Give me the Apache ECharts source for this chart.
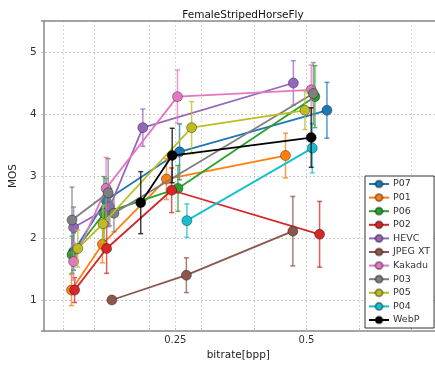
<!DOCTYPE html>
<html>
<head>
<meta charset="utf-8">
<script src="https://cdn.jsdelivr.net/npm/echarts@6/dist/echarts.min.js"></script>
<style>html,body{margin:0;padding:0;background:#fff}#c{width:435px;height:368px}</style>
</head>
<body>
<div id="c"></div>
<script>
const seriesNames = ['P07','P01','P06','P02','HEVC','JPEG XT','Kakadu','P03','P05','P04','WebP'];
const seriesColors = ['#1f77b4','#ff7f0e','#2ca02c','#d62728','#9467bd','#8c564b','#e377c2','#7f7f7f','#bcbd22','#17becf','#000000'];

const p07Rate = [0.056, 0.118, 0.258, 0.539];
const p07Mos  = [1.78, 2.61, 3.39, 4.06];
const p07Err  = [0.30, 0.35, 0.45, 0.45];
const p01Rate = [0.052, 0.111, 0.233, 0.460];
const p01Mos  = [1.16, 1.90, 2.95, 3.33];
const p01Err  = [0.25, 0.30, 0.33, 0.36];
const p06Rate = [0.053, 0.114, 0.255, 0.516];
const p06Mos  = [1.73, 2.40, 2.80, 4.28];
const p06Err  = [0.30, 0.59, 0.37, 0.50];
const p02Rate = [0.058, 0.119, 0.243, 0.525];
const p02Mos  = [1.16, 1.83, 2.77, 2.06];
const p02Err  = [0.20, 0.40, 0.36, 0.53];
const hevcRate = [0.056, 0.125, 0.188, 0.475];
const hevcMos  = [2.17, 2.50, 3.78, 4.50];
const hevcErr  = [0.33, 0.30, 0.30, 0.36];
const jpegxtRate = [0.129, 0.271, 0.474];
const jpegxtMos  = [1.00, 1.40, 2.11];
const jpegxtErr  = [0.03, 0.28, 0.56];
const kakaduRate = [0.056, 0.118, 0.254, 0.509];
const kakaduMos  = [1.62, 2.80, 4.28, 4.39];
const kakaduErr  = [0.30, 0.50, 0.43, 0.40];
const p03Rate = [0.053, 0.122, 0.133, 0.513];
const p03Mos  = [2.29, 2.73, 2.40, 4.33];
const p03Err  = [0.53, 0.55, 0.30, 0.50];
const p05Rate = [0.064, 0.112, 0.281, 0.497];
const p05Mos  = [1.83, 2.23, 3.78, 4.06];
const p05Err  = [0.30, 0.30, 0.42, 0.31];
const p04Rate = [0.272, 0.511];
const p04Mos  = [2.28, 3.45];
const p04Err  = [0.27, 0.40];
const webpRate = [0.184, 0.244, 0.509];
const webpMos  = [2.57, 3.33, 3.62];
const webpErr  = [0.50, 0.44, 0.48];

const xLabelValues = [0.25, 0.5];
const xGridValues = [0.036, 0.096, 0.2, 0.25, 0.3, 0.4, 0.5, 0.6, 0.7];
const yLabelValues = [1, 2, 3, 4, 5];

const allRates = [p07Rate,p01Rate,p06Rate,p02Rate,hevcRate,jpegxtRate,kakaduRate,p03Rate,p05Rate,p04Rate,webpRate];
const allMos = [p07Mos,p01Mos,p06Mos,p02Mos,hevcMos,jpegxtMos,kakaduMos,p03Mos,p05Mos,p04Mos,webpMos];
const allErr = [p07Err,p01Err,p06Err,p02Err,hevcErr,jpegxtErr,kakaduErr,p03Err,p05Err,p04Err,webpErr];

const series = [];
seriesNames.forEach((name, i) => {
  const color = seriesColors[i];
  const errData = allRates[i].map((x, k) => [x, allMos[i][k] - allErr[i][k], allMos[i][k] + allErr[i][k]]);
  series.push({
    name: name + '_err',
    type: 'custom',
    z: 2 + i * 2,
    silent: true,
    data: errData,
    encode: { x: 0, y: [1, 2] },
    renderItem: function (params, api) {
      const x = api.value(0);
      const lo = api.coord([x, api.value(1)]);
      const hi = api.coord([x, api.value(2)]);
      const cw = 2.5;
      const st = { stroke: color, lineWidth: 1.5, opacity: 0.75 };
      return {
        type: 'group',
        children: [
          { type: 'line', shape: { x1: lo[0], y1: lo[1], x2: hi[0], y2: hi[1] }, style: st },
          { type: 'line', shape: { x1: lo[0] - cw, y1: lo[1], x2: lo[0] + cw, y2: lo[1] }, style: st },
          { type: 'line', shape: { x1: hi[0] - cw, y1: hi[1], x2: hi[0] + cw, y2: hi[1] }, style: st }
        ]
      };
    }
  });
  series.push({
    name: name,
    type: 'line',
    z: 3 + i * 2,
    data: allRates[i].map((x, k) => [x, allMos[i][k]]),
    symbol: 'circle',
    symbolSize: 10,
    lineStyle: { color: color, width: 1.8 },
    itemStyle: { color: color, borderColor: 'rgba(0,0,0,0.35)', borderWidth: 1 },
    emphasis: { disabled: true },
    animation: false
  });
});

const chart = echarts.init(document.getElementById('c'), null, { renderer: 'canvas' });
chart.setOption({
  animation: false,
  backgroundColor: '#ffffff',
  title: {
    text: 'FemaleStripedHorseFly',
    left: 238, top: 5, textAlign: 'center',
    textStyle: { fontFamily: 'DejaVu Sans', fontSize: 10.5, fontWeight: 'normal', color: '#111' }
  },
  grid: { left: 37, top: 21, bottom: 37, right: -5, show: false, containLabel: false },
  xAxis: [{
    type: 'value', min: -0.005, max: 0.745,
    name: 'bitrate[bpp]', nameLocation: 'middle', nameGap: 19,
    nameTextStyle: { fontFamily: 'DejaVu Sans', fontSize: 10.5, color: '#222' },
    axisLine: { show: true, lineStyle: { color: '#888', width: 1.5 } },
    axisTick: { show: true, inside: true, length: 3, customValues: xGridValues, lineStyle: { color: '#bbb' } },
    axisLabel: { customValues: xLabelValues, formatter: v => String(v), fontFamily: 'DejaVu Sans', fontSize: 10, color: '#333', margin: 4 },
    splitLine: { show: true, lineStyle: { color: '#ccc', type: [1.5, 2.5], width: 1 } }
  }, {
    type: 'value', position: 'top', min: -0.005, max: 0.745,
    axisLine: { show: true, lineStyle: { color: '#888', width: 1.5 } },
    axisTick: { show: false }, axisLabel: { show: false }, splitLine: { show: false }
  }],
  yAxis: {
    type: 'value', min: 0.5, max: 5.5,
    name: 'MOS', nameLocation: 'middle', nameGap: 18,
    nameTextStyle: { fontFamily: 'DejaVu Sans', fontSize: 10.5, color: '#222' },
    axisLine: { show: true, lineStyle: { color: '#888', width: 1.5 } },
    axisTick: { show: false, customValues: yLabelValues },
    axisLabel: { customValues: yLabelValues, fontFamily: 'DejaVu Sans', fontSize: 10.5, color: '#333', margin: 5 },
    splitLine: { show: true, lineStyle: { color: '#bbb', type: [1.5, 2.5], width: 1 } }
  },
  legend: {
    data: seriesNames,
    orient: 'vertical',
    left: 365, top: 176,
    itemWidth: 20, itemHeight: 9, itemGap: 3.6,
    padding: [3, 4, 3, 3],
    borderColor: '#333', borderWidth: 1,
    backgroundColor: '#fff',
    textStyle: { fontFamily: 'DejaVu Sans', fontSize: 9.5, color: '#333', padding: [0, 0, 0, -1] },
    selectedMode: false
  },
  series: series
});
</script>
</body>
</html>
